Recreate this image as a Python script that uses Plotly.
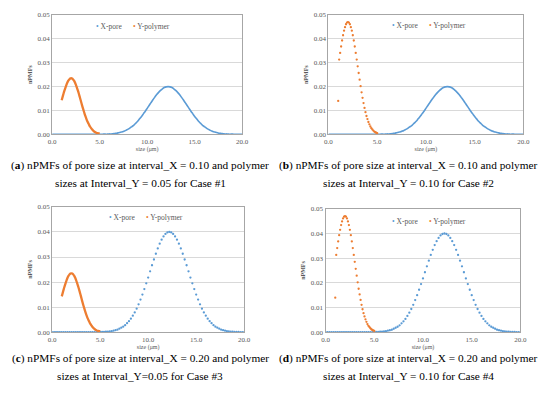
import plotly.graph_objects as go

# ---------------- data ----------------
# X-pore, sampled every 0.2 um from 0.0 to 20.0
x_pore = [round(i * 0.2, 1) for i in range(101)]

# nPMF of pore size, interval_X = 0.10 (panels a, b) - drawn as line
pore_010 = [0.0000] * 22 + [
    0.0000, 0.0000, 0.0000, 0.0000, 0.0000, 0.0001, 0.0001, 0.0001, 0.0002, 0.0002,
    0.0003, 0.0004, 0.0005, 0.0007, 0.0009, 0.0011, 0.0014, 0.0018, 0.0022, 0.0027,
    0.0033, 0.0039, 0.0047, 0.0055, 0.0065, 0.0075, 0.0086, 0.0097, 0.0109, 0.0121,
    0.0133, 0.0145, 0.0156, 0.0167, 0.0176, 0.0184, 0.0191, 0.0196, 0.0199, 0.0200,
    0.0199, 0.0196, 0.0191, 0.0184, 0.0176, 0.0167, 0.0156, 0.0145, 0.0133, 0.0121,
    0.0109, 0.0097, 0.0086, 0.0075, 0.0065, 0.0055, 0.0047, 0.0039, 0.0033, 0.0027,
    0.0022, 0.0018, 0.0014, 0.0011, 0.0009, 0.0007, 0.0005, 0.0004, 0.0003, 0.0002,
    0.0002, 0.0001, 0.0001, 0.0001, 0.0000, 0.0000, 0.0000, 0.0000, 0.0000]

# nPMF of pore size, interval_X = 0.20 (panels c, d) - drawn as dots
pore_020 = [0.0000] * 22 + [
    0.0000, 0.0000, 0.0000, 0.0001, 0.0001, 0.0001, 0.0002, 0.0002, 0.0003, 0.0004,
    0.0006, 0.0008, 0.0010, 0.0014, 0.0018, 0.0022, 0.0028, 0.0036, 0.0044, 0.0054,
    0.0066, 0.0079, 0.0094, 0.0111, 0.0130, 0.0150, 0.0172, 0.0195, 0.0218, 0.0243,
    0.0267, 0.0290, 0.0313, 0.0334, 0.0353, 0.0369, 0.0382, 0.0392, 0.0398, 0.0400,
    0.0398, 0.0392, 0.0382, 0.0369, 0.0353, 0.0334, 0.0313, 0.0290, 0.0267, 0.0243,
    0.0218, 0.0195, 0.0172, 0.0150, 0.0130, 0.0111, 0.0094, 0.0079, 0.0066, 0.0054,
    0.0044, 0.0036, 0.0028, 0.0022, 0.0018, 0.0014, 0.0010, 0.0008, 0.0006, 0.0004,
    0.0003, 0.0002, 0.0002, 0.0001, 0.0001, 0.0001, 0.0000, 0.0000, 0.0000]

# Y-polymer, sampled every 0.1 um from 1.0 to 5.0
x_poly = [round(1.0 + i * 0.1, 1) for i in range(41)]

# interval_Y = 0.05 (panels a, c) - drawn as line
poly_005 = [
    0.0143, 0.0157, 0.0171, 0.0184, 0.0196, 0.0207, 0.0217, 0.0225, 0.0230, 0.0234,
    0.0235, 0.0234, 0.0230, 0.0225, 0.0217, 0.0207, 0.0196, 0.0184, 0.0171, 0.0157,
    0.0143, 0.0128, 0.0114, 0.0101, 0.0088, 0.0076, 0.0065, 0.0055, 0.0047, 0.0039,
    0.0032, 0.0026, 0.0021, 0.0017, 0.0013, 0.0010, 0.0008, 0.0006, 0.0005, 0.0004,
    0.0003]

# interval_Y = 0.10 (panels b, d) - drawn as dots
poly_010 = [
    0.0140, 0.0313, 0.0341, 0.0368, 0.0393, 0.0415, 0.0434, 0.0449, 0.0461, 0.0468,
    0.0470, 0.0468, 0.0461, 0.0449, 0.0434, 0.0415, 0.0393, 0.0368, 0.0341, 0.0313,
    0.0285, 0.0257, 0.0229, 0.0202, 0.0176, 0.0153, 0.0131, 0.0111, 0.0093, 0.0077,
    0.0064, 0.0052, 0.0042, 0.0033, 0.0026, 0.0021, 0.0016, 0.0012, 0.0009, 0.0007,
    0.0005]

series_names = ["X-pore", "Y-polymer"]
x_ticks = [0, 5, 10, 15, 20]
x_ticklabels = ["0.0", "5.0", "10.0", "15.0", "20.0"]
y_ticks = [0, 0.01, 0.02, 0.03, 0.04, 0.05]
y_ticklabels = ["0.00", "0.01", "0.02", "0.03", "0.04", "0.05"]

captions = [
    ("(<b>a</b>) nPMFs of pore size at interval_X = 0.10 and polymer",
     "sizes at Interval_Y = 0.05 for Case #1"),
    ("(<b>b</b>) nPMFs of pore size at interval_X = 0.10 and polymer",
     "sizes at Interval_Y = 0.10 for Case #2"),
    ("(<b>c</b>) nPMFs of pore size at interval_X = 0.20 and polymer",
     "sizes at Interval_Y=0.05 for Case #3"),
    ("(<b>d</b>) nPMFs of pore size at interval_X = 0.20 and polymer",
     "sizes at Interval_Y = 0.10 for Case #4"),
]

# ---------------- style ----------------
# the page body has an 8px margin, so the figure is laid out in page pixels minus 8
OFF = 8
W, H = 550 - OFF, 393 - OFF
BLUE = "#5B9BD5"
ORANGE = "#ED7D31"
SERIF = "Liberation Serif"
GRAY = "#595959"


def px(p):
    return min(1.0, max(0.0, (p - OFF) / W))


def py(p):
    return min(1.0, max(0.0, 1 - (p - OFF) / H))


# plot-area page-pixel boxes: (left, right, top, bottom)
boxes = [(49, 243, 11, 133), (331, 530, 11, 133), (49, 245, 207, 335), (328, 527, 209, 335)]
caption_y = [(165, 183), (165, 183), (362, 380), (362, 380)]
caption_x = [139, 413, 139, 413]
legend_pos = [(132, 23), (434, 22), (145, 218), (434, 222)]

panels = [
    (pore_010, "lines", poly_005, "lines"),
    (pore_010, "lines", poly_010, "markers"),
    (pore_020, "markers", poly_005, "lines"),
    (pore_020, "markers", poly_010, "markers"),
]

fig = go.Figure()
layout = {}
annotations = []


def style(mode, color, lw):
    if mode == "lines":
        return dict(line=dict(color=color, width=lw, shape="spline"))
    return dict(marker=dict(color=color, size=2.3, symbol="circle"))


for i, (box, pan) in enumerate(zip(boxes, panels)):
    n = "" if i == 0 else str(i + 1)
    xa, ya = "x" + n, "y" + n
    l, r, t, b = box
    pore_vals, pore_mode, poly_vals, poly_mode = pan

    fig.add_trace(go.Scatter(x=x_pore, y=pore_vals, mode=pore_mode, name=series_names[0],
                             xaxis=xa, yaxis=ya, showlegend=False,
                             **style(pore_mode, BLUE, 1.6)))
    fig.add_trace(go.Scatter(x=x_poly, y=poly_vals, mode=poly_mode, name=series_names[1],
                             xaxis=xa, yaxis=ya, showlegend=False,
                             **style(poly_mode, ORANGE, 2.3)))

    layout["xaxis" + n] = dict(
        domain=[px(l), px(r)], anchor=ya, range=[0, 20],
        tickvals=x_ticks, ticktext=x_ticklabels, showgrid=False, zeroline=False,
        showline=True, linecolor="#A6A6A6", linewidth=1, mirror=True, ticks="",
        tickfont=dict(family=SERIF, size=7, color=GRAY),
        title=dict(text="size (μm)", font=dict(family=SERIF, size=6, color=GRAY),
                   standoff=0),
    )
    layout["yaxis" + n] = dict(
        domain=[py(b), py(t)], anchor=xa, range=[0, 0.05],
        tickvals=y_ticks, ticktext=y_ticklabels, showgrid=True, gridcolor="#D9D9D9",
        gridwidth=1, zeroline=False, showline=True, linecolor="#A6A6A6", linewidth=1,
        mirror=True, ticks="",
        tickfont=dict(family=SERIF, size=7, color=GRAY),
        title=dict(text="<b>nPMFs</b>", font=dict(family=SERIF, size=6, color=GRAY),
                   standoff=4),
    )

    # compact legend, written as text with coloured bullets
    lx, ly = legend_pos[i]
    leg = (f"<span style='color:{BLUE}'>•</span> {series_names[0]}"
           f"      <span style='color:{ORANGE}'>•</span> {series_names[1]}")
    annotations.append(dict(
        text=leg, x=px(lx), y=py(ly), xref="paper", yref="paper",
        xanchor="center", yanchor="middle", showarrow=False,
        font=dict(family=SERIF, size=7.5, color=GRAY),
    ))

    cx = caption_x[i]
    for txt, cy in zip(captions[i], caption_y[i]):
        annotations.append(dict(
            text=txt, x=px(cx), y=py(cy), xref="paper", yref="paper",
            xanchor="center", yanchor="middle", showarrow=False,
            font=dict(family=SERIF, size=11.3, color="#000000"),
        ))

fig.update_layout(
    width=W, height=H, margin=dict(l=0, r=0, t=0, b=0),
    paper_bgcolor="white", plot_bgcolor="white", annotations=annotations,
    **layout,
)

fig.write_html("out.html")
